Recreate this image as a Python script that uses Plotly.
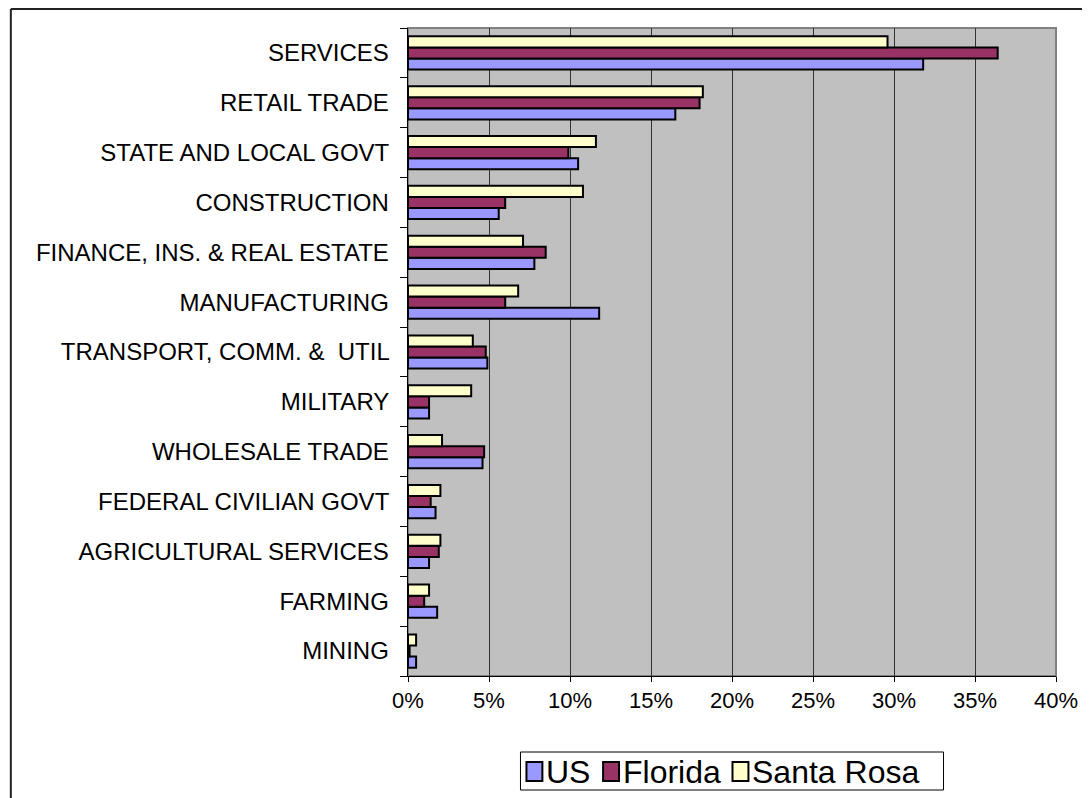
import plotly.graph_objects as go

categories = ["SERVICES", "RETAIL TRADE", "STATE AND LOCAL GOVT", "CONSTRUCTION",
              "FINANCE, INS. & REAL ESTATE", "MANUFACTURING", "TRANSPORT, COMM. &  UTIL",
              "MILITARY", "WHOLESALE TRADE", "FEDERAL CIVILIAN GOVT",
              "AGRICULTURAL SERVICES", "FARMING", "MINING"]
us = [31.8, 16.5, 10.5, 5.6, 7.8, 11.8, 4.9, 1.3, 4.6, 1.7, 1.3, 1.8, 0.5]
florida = [36.4, 18.0, 9.9, 6.0, 8.5, 6.0, 4.8, 1.3, 4.7, 1.4, 1.9, 1.0, 0.1]
santa_rosa = [29.6, 18.2, 11.6, 10.8, 7.1, 6.8, 4.0, 3.9, 2.1, 2.0, 2.0, 1.3, 0.5]
series_names = ["US", "Florida", "Santa Rosa"]
colors = ["#9999FF", "#993366", "#FFFFCC"]
x_ticks = [0, 0.05, 0.10, 0.15, 0.20, 0.25, 0.30, 0.35, 0.40]

# the page places the figure at an 8px offset; coordinates below are figure coords
W, H = 1082, 790
L, R, T, B = 400, 1051, 20, 668

fig = go.Figure()
for name, vals, col in zip(series_names, [us, florida, santa_rosa], colors):
    fig.add_trace(go.Bar(
        y=categories, x=[v / 100 for v in vals], name=name, orientation="h",
        marker=dict(color=col, line=dict(color="black", width=2)),
    ))

pw, ph = R - L, B - T
def px(x):
    return (x - L) / pw
def py(y):
    return (B - y) / ph

shapes = [
    dict(type="rect", xref="paper", yref="paper", x0=0, x1=1, y0=0, y1=1,
         line=dict(color="#808080", width=2), layer="below"),
    # outer chart border (left and top edges visible)
    dict(type="line", xref="paper", yref="paper", x0=px(1), x1=px(1), y0=py(1), y1=py(H + 20),
         line=dict(color="#222222", width=2)),
    dict(type="line", xref="paper", yref="paper", x0=px(1), x1=px(W + 20), y0=py(1), y1=py(1),
         line=dict(color="#222222", width=2)),
]
annotations = []

# legend drawn as a box with swatches and labels
box_x0, box_x1, box_y0, box_y1 = 513, 938, 744, 782
shapes.append(dict(type="rect", xref="paper", yref="paper",
                   x0=px(box_x0), x1=px(box_x1), y0=py(box_y1), y1=py(box_y0),
                   line=dict(color="black", width=1), fillcolor="white"))
sw_x = [519, 596, 726]
txt_x = [539, 616, 746]
yc = (box_y0 + box_y1) / 2
for name, col, sx, tx in zip(series_names, colors, sw_x, txt_x):
    shapes.append(dict(type="rect", xref="paper", yref="paper",
                       x0=px(sx), x1=px(sx + 16), y0=py(yc + 10), y1=py(yc - 9),
                       line=dict(color="black", width=2), fillcolor=col))
    annotations.append(dict(xref="paper", yref="paper", x=px(tx), y=py(yc + 1),
                            xanchor="left", yanchor="middle", text=name, showarrow=False,
                            font=dict(size=32, color="black"), xshift=-2))

fig.update_layout(
    width=W, height=H,
    margin=dict(l=L, r=W - R, t=T, b=H - B, pad=0),
    paper_bgcolor="white", plot_bgcolor="#C0C0C0",
    barmode="group", bargap=0.333, bargroupgap=0,
    font=dict(family="Liberation Sans, Arial, sans-serif", color="black"),
    showlegend=False,
    xaxis=dict(range=[0, 0.40], tickvals=x_ticks, tickformat=".0%",
               showgrid=True, gridcolor="#333333", gridwidth=1,
               ticks="outside", ticklen=5, tickcolor="black",
               showline=True, linecolor="black", linewidth=1,
               tickfont=dict(size=22), zeroline=False),
    yaxis=dict(categoryorder="array", categoryarray=categories[::-1],
               ticks="outside", ticklen=7, tickcolor="black", tickson="boundaries",
               showline=True, linecolor="black", linewidth=1,
               tickfont=dict(size=24), ticksuffix="  ", showgrid=False),
    shapes=shapes,
    annotations=annotations,
)

fig.write_html("out.html")
